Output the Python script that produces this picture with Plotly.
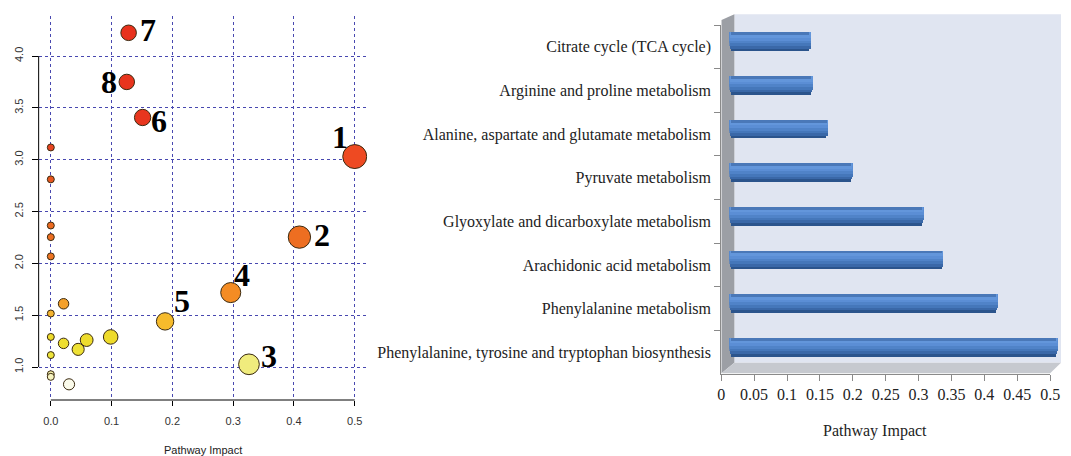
import math
import plotly.graph_objects as go

# page is shown with the browser's default 8px body margin
OX, OY = 8, 8
W, H = 1071 - OX, 456 - OY

# ---------------- left panel: pathway bubble plot ----------------
impact = [0.128, 0.125, 0.151, 0.500, 0.000, 0.000, 0.000, 0.000, 0.000,
          0.409, 0.296, 0.188, 0.326, 0.021, 0.000, 0.000, 0.000, 0.000,
          0.000, 0.021, 0.045, 0.059, 0.0985, 0.030]
neglogp = [4.224, 3.750, 3.407, 3.030, 3.118, 2.810, 2.365, 2.253, 2.067,
           2.253, 1.718, 1.440, 1.026, 1.610, 1.516, 1.290, 1.115, 0.930,
           0.905, 1.228, 1.170, 1.260, 1.290, 0.833]
point_label = ["7", "8", "6", "1", "", "", "", "", "",
               "2", "4", "5", "3", "", "", "", "", "",
               "", "", "", "", "", ""]
left_x_ticks = [0.0, 0.1, 0.2, 0.3, 0.4, 0.5]
left_y_ticks = [1.0, 1.5, 2.0, 2.5, 3.0, 3.5, 4.0]

# ---------------- right panel: impact bar chart ----------------
pathways = ["Citrate cycle (TCA cycle)",
            "Arginine and proline metabolism",
            "Alanine, aspartate and glutamate metabolism",
            "Pyruvate metabolism",
            "Glyoxylate and dicarboxylate metabolism",
            "Arachidonic acid metabolism",
            "Phenylalanine metabolism",
            "Phenylalanine, tyrosine and tryptophan biosynthesis"]
pathway_impact = [0.125, 0.128, 0.151, 0.188, 0.296, 0.326, 0.409, 0.500]
bar_ticks = [0, 0.05, 0.1, 0.15, 0.2, 0.25, 0.3, 0.35, 0.4, 0.45, 0.5]
bar_tick_text = ["0", "0.05", "0.1", "0.15", "0.2", "0.25", "0.3",
                 "0.35", "0.4", "0.45", "0.5"]

# ---------------- style ----------------
def PX(x):
    return (x - OX) / W

def PY(y):
    return 1 - (y - OY) / H

SANS = "Liberation Sans, Arial, sans-serif"
SERIF = "Liberation Serif, Times New Roman, serif"

heat_scale = [
    [0.000, "#FFFFFF"], [0.010, "#FBFBEA"], [0.030, "#F6F3C0"],
    [0.040, "#F3EFA0"], [0.065, "#F0EC7C"], [0.090, "#EEE43A"],
    [0.143, "#EEDA2A"], [0.183, "#F6BB2C"], [0.206, "#F4B230"],
    [0.231, "#F4A02A"], [0.263, "#F48C24"], [0.363, "#EE7422"],
    [0.449, "#EC6A20"], [0.574, "#E8561E"], [0.637, "#EE4A22"],
    [0.663, "#E84420"], [0.743, "#E8361E"], [1.000, "#E8301C"],
]
label_offsets = {"7": (19, 3), "8": (-18, 0), "6": (16, -4), "1": (-15, 20),
                 "2": (23, 2), "4": (11, 18), "5": (17, 20), "3": (20, 8)}

fig = go.Figure()

# bubbles
fig.add_trace(go.Scatter(
    x=impact, y=neglogp, mode="markers", xaxis="x", yaxis="y",
    marker=dict(size=[7 + 24 * math.sqrt(v) for v in impact],
                color=neglogp, colorscale=heat_scale, cmin=0.8, cmax=4.3,
                line=dict(color="#3a2a10", width=1), opacity=1),
    showlegend=False, hoverinfo="x+y"))

annotations = []
for xv, yv, lab in zip(impact, neglogp, point_label):
    if lab:
        dx, dy = label_offsets[lab]
        annotations.append(dict(
            x=xv, y=yv, xref="x", yref="y", text=lab, showarrow=False,
            xshift=dx, yshift=dy,
            font=dict(family=SERIF, size=32, color="#000000", weight="bold")))

annotations.append(dict(x=PX(201.5), y=PY(450), xref="paper", yref="paper",
                        xanchor="center", yanchor="middle",
                        text="Pathway Impact", showarrow=False,
                        font=dict(family=SANS, size=11, color="#222222")))
annotations.append(dict(x=PX(882.5), y=PY(431), xref="paper", yref="paper",
                        xanchor="center", yanchor="middle",
                        text="Pathway Impact", showarrow=False,
                        font=dict(family=SERIF, size=16, color="#222222")))

# cylinder-like bars: nested bands (top part drawn last), rounded ends
BAR_W = 0.43                 # category units
UNITS_PER_PX = 0.5 / 333.3   # value units per pixel on the bar axis
CAP_PX = 4.0                 # depth of the elliptic end caps
bands = [  # (bottom edge of band as fraction from top, colour)
    (1.000, "#2B548C"),
    (0.860, "#3A68A8"),
    (0.720, "#4577BA"),
    (0.580, "#5083C8"),
    (0.430, "#5B8ED5"),
    (0.290, "#6396DB"),
    (0.150, "#4A78B8"),
]
for frac, col in bands:
    prev = [f for f, _ in bands if f > frac]
    lower = min(prev) if prev else frac
    mid = (frac + (lower if lower != frac else 1.0)) / 2 if prev else frac - 0.07
    mid = frac - 0.07
    inset = CAP_PX * (1 - math.sqrt(max(0.0, 1 - (2 * mid - 1) ** 2))) * UNITS_PER_PX
    fig.add_trace(go.Bar(
        x=[v - 2 * inset for v in pathway_impact], y=pathways,
        base=[inset] * len(pathway_impact), orientation="h",
        xaxis="x2", yaxis="y2", width=BAR_W * frac, offset=-BAR_W / 2,
        marker=dict(color=col, line=dict(width=0)),
        showlegend=False, hoverinfo="skip"))

# invisible trace to carry the labelled category / value axes
fig.add_trace(go.Scatter(
    x=pathway_impact, y=pathways, xaxis="x3", yaxis="y3", mode="markers",
    marker=dict(opacity=0, size=1), showlegend=False, hoverinfo="skip"))

# R-style axis lines on the left panel
shapes = [
    dict(type="line", xref="x domain", yref="y", x0=0, x1=0,
         y0=min(left_y_ticks), y1=max(left_y_ticks),
         line=dict(color="#000000", width=1)),
    dict(type="line", xref="x", yref="y domain", y0=0, y1=0,
         x0=min(left_x_ticks), x1=max(left_x_ticks),
         line=dict(color="#000000", width=1)),
]
# 3-D chart walls
back = dict(type="rect", xref="paper", yref="paper", layer="below",
            x0=PX(740), x1=PX(1071), y0=PY(362.7), y1=PY(14.3),
            fillcolor="#E0E5F1", line=dict(width=0))
left_wall = dict(type="path", xref="paper", yref="paper", layer="below",
                 path="M {} {} L {} {} L {} {} L {} {} Z".format(
                     PX(727), PY(20), PX(740), PY(14.3),
                     PX(740), PY(362.7), PX(727), PY(373.3)),
                 fillcolor="#9C9FA5", line=dict(width=0))
floor = dict(type="path", xref="paper", yref="paper", layer="below",
             path="M {} {} L {} {} L {} {} L {} {} Z".format(
                 PX(727), PY(373.3), PX(740), PY(362.7),
                 PX(1071), PY(362.7), PX(1060), PY(373.3)),
             fillcolor="#C6C9CF", line=dict(width=0))
shapes += [back, left_wall, floor]

fig.update_layout(
    width=W, height=H, autosize=False,
    margin=dict(l=0, r=0, t=0, b=0, pad=0),
    paper_bgcolor="#FFFFFF", plot_bgcolor="rgba(0,0,0,0)",
    barmode="overlay", bargap=0,
    shapes=shapes, annotations=annotations,
    xaxis=dict(domain=[PX(35), PX(368)], range=[-0.020, 0.5206],
               anchor="y", tickvals=left_x_ticks,
               ticktext=["%.1f" % v for v in left_x_ticks],
               ticks="outside", ticklen=5, tickcolor="#000000",
               showline=False, zeroline=False,
               showgrid=True, gridcolor="#4848B0", griddash="dot", gridwidth=1,
               tickfont=dict(family=SANS, size=11, color="#333333"),
               ticklabelstandoff=6),
    yaxis=dict(domain=[PY(400), PY(16)], range=[0.6817, 4.386],
               anchor="x", tickvals=left_y_ticks,
               ticktext=["%.1f" % v for v in left_y_ticks],
               ticks="outside", ticklen=6, tickcolor="#000000", tickangle=-90,
               showline=False, zeroline=False,
               showgrid=True, gridcolor="#4848B0", griddash="dot", gridwidth=1,
               tickfont=dict(family=SANS, size=11, color="#333333"),
               ticklabelstandoff=4),
    xaxis2=dict(domain=[PX(735), PX(1071)], range=[0, (1071 - 735) / 666.7],
                anchor="y2", visible=False),
    yaxis2=dict(domain=[PY(368.5), PY(19.5)], type="category",
                categoryorder="array", categoryarray=pathways,
                range=[7.5, -0.5], anchor="x2", visible=False),
    xaxis3=dict(domain=[PX(726.7), PX(1060)], range=[0, 0.5], anchor="y3",
                tickvals=bar_ticks, ticktext=bar_tick_text,
                ticks="outside", ticklen=6, tickcolor="#8A8A8A",
                showline=True, linecolor="#8A8A8A", linewidth=1,
                showgrid=False, zeroline=False,
                tickfont=dict(family=SERIF, size=16, color="#222222"),
                ticklabelstandoff=0),
    yaxis3=dict(domain=[PY(374), PY(25)], type="category",
                categoryorder="array", categoryarray=pathways,
                range=[7.5, -0.5], anchor="x3", tickson="boundaries",
                ticks="outside", ticklen=6, tickcolor="#8A8A8A",
                showline=True, linecolor="#8A8A8A", linewidth=1,
                showgrid=False, zeroline=False,
                tickfont=dict(family=SERIF, size=16, color="#222222"),
                ticklabelstandoff=6),
)

fig.write_html("out.html", config={"displayModeBar": False})
